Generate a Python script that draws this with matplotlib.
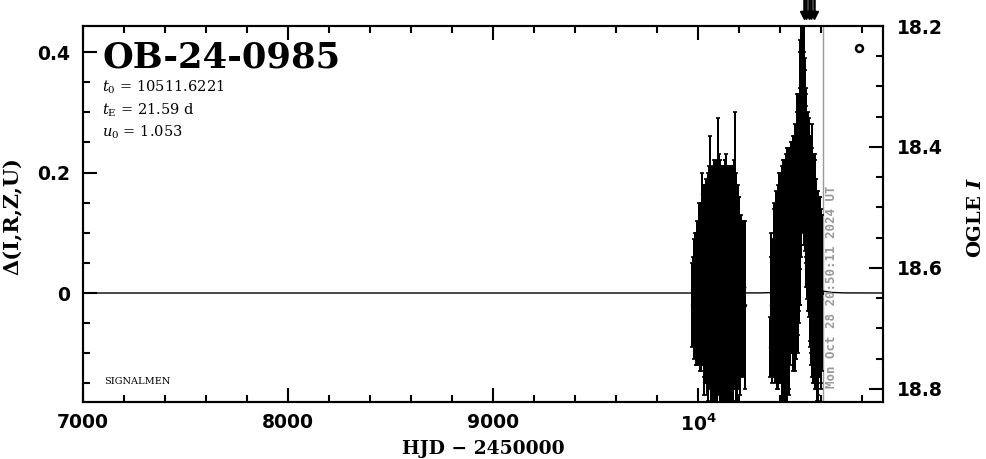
import matplotlib
matplotlib.use('Agg')
import matplotlib.pyplot as plt
import matplotlib.transforms as mtransforms
from matplotlib.ticker import FixedLocator, MultipleLocator, FixedFormatter

# ---------------- data ----------------
event_name = "OB-24-0985"
param_lines = [r"$t_0$ = 10511.6221", r"$t_{\rm E}$ = 21.59 d", r"$u_0$ = 1.053"]
stamp_text = "Mon Oct 28 20:50:11 2024 UT"
now_hjd = 10610

x_ticks = [7000, 8000, 9000, 10000]
x_ticklabels = ["7000", "8000", "9000", r"$\mathbf{10^4}$"]
left_ticks = [0, 0.2, 0.4]
left_ticklabels = ["0", "0.2", "0.4"]
right_ticks = [18.2, 18.4, 18.6, 18.8]
right_ticklabels = ["18.2", "18.4", "18.6", "18.8"]

# season 2024a (HJD-2450000, delta flux, error)
s1_hjd = [9972, 9976, 9981, 9985, 9990, 9994, 9998, 10003, 10007, 10011,
          10016, 10020, 10024, 10028, 10032, 10036, 10040, 10044, 10048, 10052,
          10056, 10060, 10064, 10068, 10072, 10075, 10079, 10083, 10086, 10090,
          10094, 10098, 10101, 10105, 10108, 10112, 10116, 10119, 10123, 10127,
          10130, 10134, 10138, 10141, 10145, 10149, 10152, 10156, 10160, 10164,
          10167, 10171, 10175, 10179, 10183, 10186, 10190, 10194, 10198, 10202,
          10206, 10210, 10214, 10218, 10222, 10226, 10230]
s1_delta = [-0.02, 0.00, -0.03, 0.01, -0.02, 0.02, -0.01, 0.03, 0.00, -0.03,
            0.04, 0.165, 0.01, -0.02, 0.05, 0.00, 0.03, -0.04, 0.06, 0.02,
            -0.01, 0.10, 0.03, -0.02, 0.05, 0.01, 0.08, -0.03, 0.04, 0.00,
            0.06, 0.10, 0.02, -0.04, 0.05, 0.01, 0.07, -0.02, 0.04, 0.00,
            0.06, -0.03, 0.08, 0.02, -0.01, 0.05, 0.00, 0.04, -0.02, 0.06,
            0.01, -0.03, 0.05, 0.11, 0.00, 0.04, -0.02, 0.03, 0.00, 0.02,
            -0.03, 0.01, 0.00, -0.02, 0.01, -0.02, -0.02]
s1_err = [0.07, 0.06, 0.08, 0.09, 0.10, 0.08, 0.11, 0.09, 0.12, 0.10,
          0.11, 0.035, 0.13, 0.12, 0.13, 0.15, 0.12, 0.13, 0.14, 0.16,
          0.15, 0.16, 0.17, 0.16, 0.15, 0.18, 0.14, 0.17, 0.16, 0.19,
          0.15, 0.19, 0.18, 0.16, 0.17, 0.19, 0.14, 0.18, 0.17, 0.19,
          0.16, 0.17, 0.15, 0.19, 0.17, 0.16, 0.18, 0.17, 0.19, 0.15,
          0.18, 0.16, 0.17, 0.19, 0.18, 0.16, 0.17, 0.15, 0.16, 0.14,
          0.14, 0.12, 0.11, 0.12, 0.10, 0.11, 0.14]

s1b_hjd = [9979, 9988, 9996, 10005, 10013, 10022, 10030, 10038, 10046, 10054,
           10062, 10070, 10077, 10088, 10096, 10103, 10110, 10118, 10125, 10132,
           10140, 10147, 10154, 10162, 10169, 10177, 10185, 10192, 10200, 10208,
           10216, 10224]
s1b_delta = [0.01, -0.01, 0.00, 0.02, 0.01, 0.03, -0.01, 0.02, 0.00, 0.04,
             0.00, 0.03, 0.01, 0.04, 0.02, 0.05, 0.00, 0.03, 0.02, 0.04,
             0.00, 0.03, 0.01, 0.03, 0.00, 0.02, 0.01, 0.00, 0.01, -0.01,
             0.00, 0.01]
s1b_err = [0.08, 0.11, 0.12, 0.13, 0.14, 0.15, 0.16, 0.17, 0.18, 0.17,
           0.19, 0.18, 0.19, 0.18, 0.19, 0.18, 0.20, 0.18, 0.19, 0.18,
           0.20, 0.18, 0.19, 0.18, 0.19, 0.18, 0.17, 0.16, 0.15, 0.13,
           0.12, 0.11]

# season 2024b
s2_hjd = [10352, 10356, 10360, 10364, 10368, 10372, 10376, 10380, 10384, 10388,
          10391, 10395, 10398, 10402, 10405, 10409, 10412, 10416, 10419, 10423,
          10426, 10430, 10433, 10437, 10440, 10444, 10447, 10451, 10454, 10458,
          10461, 10465, 10468, 10472, 10475, 10479, 10482, 10486, 10489, 10492,
          10495, 10498, 10501, 10504, 10507, 10510, 10513, 10516, 10519, 10522,
          10525, 10528, 10531, 10534, 10537, 10540, 10543, 10546, 10549, 10552,
          10555, 10558, 10561, 10564, 10567, 10570, 10573, 10576, 10579, 10582,
          10585, 10588, 10592, 10596, 10600, 10604]
s2_delta = [-0.09, -0.02, 0.02, -0.04, 0.01, 0.03, -0.03, 0.04, 0.00, 0.06,
            -0.02, 0.03, 0.07, 0.00, 0.05, -0.02, 0.06, 0.02, -0.01, 0.05,
            0.01, 0.07, -0.01, 0.04, 0.08, 0.02, 0.10, 0.05, 0.09, 0.04,
            0.11, 0.07, 0.06, 0.03, 0.10, 0.04, 0.12, 0.07, 0.13, 0.10,
            0.16, 0.20, 0.28, 0.32, 0.30, 0.34, 0.31, 0.28, 0.24, 0.22,
            0.17, 0.20, 0.14, 0.17, 0.12, 0.15, 0.10, 0.07, 0.12, 0.05,
            0.14, 0.06, 0.03, 0.08, 0.02, 0.06, 0.00, 0.04, -0.01, 0.03,
            -0.02, 0.02, -0.01, 0.02, -0.01, 0.00]
s2_err = [0.05, 0.08, 0.06, 0.10, 0.09, 0.11, 0.12, 0.10, 0.13, 0.12,
          0.14, 0.13, 0.13, 0.15, 0.14, 0.16, 0.16, 0.17, 0.18, 0.15,
          0.19, 0.16, 0.18, 0.17, 0.16, 0.19, 0.13, 0.15, 0.16, 0.14,
          0.15, 0.16, 0.17, 0.16, 0.18, 0.15, 0.21, 0.17, 0.20, 0.15,
          0.18, 0.22, 0.17, 0.15, 0.18, 0.14, 0.16, 0.17, 0.16, 0.15,
          0.16, 0.14, 0.15, 0.13, 0.15, 0.13, 0.14, 0.16, 0.14, 0.17,
          0.14, 0.16, 0.18, 0.15, 0.17, 0.17, 0.16, 0.15, 0.17, 0.14,
          0.16, 0.14, 0.13, 0.14, 0.15, 0.13]

s2b_hjd = [10354, 10362, 10370, 10378, 10386, 10393, 10400, 10407, 10414, 10421,
           10428, 10435, 10442, 10449, 10456, 10463, 10470, 10477, 10484, 10491,
           10497, 10503, 10509, 10515, 10521, 10527, 10533, 10539, 10545, 10551,
           10557, 10563, 10569, 10575, 10581, 10587, 10594, 10602]
s2b_delta = [0.00, -0.03, 0.02, 0.05, -0.01, 0.04, 0.02, 0.06, 0.00, 0.04,
             0.02, 0.07, 0.03, 0.06, 0.08, 0.05, 0.09, 0.08, 0.12, 0.14,
             0.22, 0.26, 0.30, 0.27, 0.25, 0.18, 0.15, 0.13, 0.09, 0.08,
             0.05, 0.04, 0.03, 0.02, 0.01, 0.00, 0.01, -0.01]
s2b_err = [0.10, 0.12, 0.13, 0.12, 0.15, 0.16, 0.17, 0.15, 0.19, 0.18,
           0.20, 0.17, 0.19, 0.18, 0.17, 0.18, 0.17, 0.19, 0.18, 0.17,
           0.18, 0.20, 0.20, 0.19, 0.14, 0.13, 0.14, 0.16, 0.17, 0.18,
           0.19, 0.18, 0.19, 0.17, 0.16, 0.17, 0.15, 0.14]

# points above the plotted range (drawn as arrows)
offscale_hjd = [10515, 10527, 10540, 10552, 10565]

# model curve
model_hjd = [7000, 10111.6, 10311.6, 10371.6, 10411.6, 10431.6, 10451.6, 10471.6,
             10481.6, 10491.6, 10496.6, 10501.6, 10506.6, 10511.6, 10516.6,
             10521.6, 10526.6, 10531.6, 10541.6, 10551.6, 10571.6, 10591.6,
             10611.6, 10651.6, 10711.6, 10900]
model_delta = [0.0, 0.0, 0.0002, 0.001, 0.003, 0.007, 0.0175, 0.050,
               0.089, 0.158, 0.204, 0.252, 0.291, 0.306, 0.291,
               0.252, 0.204, 0.158, 0.089, 0.050, 0.0175, 0.007,
               0.003, 0.001, 0.0002, 0.0]

# ---------------- figure ----------------
W, H = 986, 459
fig = plt.figure(figsize=(W / 100, H / 100), dpi=100)
ax = fig.add_axes([83 / W, 1 - 402 / H, 800 / W, 376 / H])

def fx(px):
    return px / W

def fy(py):
    return 1 - py / H

ax.set_xlim(7000, 10902)
ax.set_ylim(-0.1809, 0.4432)

# model
ax.plot(model_hjd, model_delta, color='k', lw=1.0, zorder=2)

# data
datasets = [(s1_hjd, s1_delta, s1_err), (s1b_hjd, s1b_delta, s1b_err),
            (s2_hjd, s2_delta, s2_err), (s2b_hjd, s2b_delta, s2b_err)]
for hj, de, er in datasets:
    cont = ax.errorbar(hj, de, yerr=er, fmt='o', ms=1.5, color='k', ecolor='k',
                       elinewidth=1.4, capsize=1.3, capthick=1.2, zorder=3)
    for lc in cont.lines[2]:
        lc.set_antialiased(False)
    for cl in cont.lines[1]:
        cl.set_antialiased(False)

# "now" line
ax.axvline(now_hjd, color='#9a9a9a', lw=1.0, zorder=1)
ax.text(now_hjd + 11, -0.158, stamp_text, rotation=90, ha='left', va='bottom',
        color='#9a9a9a', fontsize=9, family='DejaVu Sans Mono', fontweight='bold')

# arrows for off-scale points
blend = mtransforms.blended_transform_factory(ax.transData, ax.transAxes)
for h in offscale_hjd:
    ax.plot([h, h], [1.069, 1.03], color='k', lw=1.8, transform=blend, clip_on=False)
    ax.plot([h], [1.028], marker='v', ms=6, color='k', transform=blend, clip_on=False)

# legend symbol
ax.plot([0.97], [0.9415], marker='o', ms=5, mfc='white', mec='k', mew=1.8,
        transform=ax.transAxes, clip_on=False)

# ticks
tick_font = dict(family='DejaVu Sans', weight='bold', size=13.5)
ax.xaxis.set_major_locator(FixedLocator(x_ticks))
ax.xaxis.set_major_formatter(FixedFormatter(x_ticklabels))
ax.xaxis.set_minor_locator(MultipleLocator(200))
ax.yaxis.set_major_locator(FixedLocator(left_ticks))
ax.yaxis.set_major_formatter(FixedFormatter(left_ticklabels))
ax.yaxis.set_minor_locator(MultipleLocator(0.05))
ax.tick_params(which='both', direction='in', top=True, bottom=True, left=True,
               right=False, width=1.5, color='k')
ax.tick_params(which='major', length=10)
ax.tick_params(which='minor', length=5)
ax.tick_params(axis='x', which='major', pad=8)
ax.tick_params(axis='y', which='major', pad=9)
for lab in ax.get_xticklabels() + ax.get_yticklabels():
    lab.set_fontproperties(tick_font)
    lab.set_fontsize(13.5)

ax2 = ax.twinx()
ax2.set_position(ax.get_position())
ax2.set_ylim(18.8215, 18.2)
ax2.yaxis.set_major_locator(FixedLocator(right_ticks))
ax2.yaxis.set_major_formatter(FixedFormatter(right_ticklabels))
ax2.yaxis.set_minor_locator(MultipleLocator(0.05))
ax2.tick_params(which='both', direction='in', right=True, left=False, width=1.5)
ax2.tick_params(which='major', length=10, pad=10)
ax2.tick_params(which='minor', length=5)
for lab in ax2.get_yticklabels():
    lab.set_fontproperties(tick_font)
    lab.set_fontsize(13.5)

for a in (ax, ax2):
    for s in a.spines.values():
        s.set_linewidth(1.5)

# texts
fig.text(fx(103), fy(67), event_name, family='DejaVu Serif', weight='bold',
         fontsize=25.5, va='baseline', ha='left')
for i, line in enumerate(param_lines):
    fig.text(fx(102), fy(92 + 22.5 * i), line, family='DejaVu Serif', fontsize=10.5,
             va='baseline', ha='left', math_fontfamily='dejavuserif')
fig.text(fx(104), fy(384), "SIGNALMEN", family='DejaVu Serif', fontsize=7,
         va='baseline', ha='left')

fig.text(fx(483), fy(454), "HJD − 2450000", family='DejaVu Serif', weight='bold',
         fontsize=13.5, ha='center', va='baseline')
fig.text(fx(13), fy(216), "Δ(I,R,Z,U)", family='DejaVu Serif', weight='bold',
         fontsize=15, rotation=90, ha='center', va='center')
rl = fig.text(fx(976), fy(218), r"OGLE $\mathbfit{I}$", family='DejaVu Serif',
              weight='bold', fontsize=14, rotation=90, ha='center', va='center',
              math_fontfamily='dejavuserif')
try:
    fig.canvas.draw()
except Exception:
    rl.set_text(r"OGLE $\mathit{I}$")

fig.savefig('out.png', dpi=100)
